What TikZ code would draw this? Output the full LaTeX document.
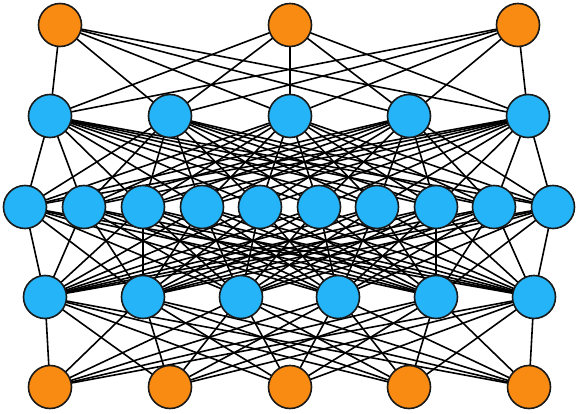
\documentclass[tikz,border=0pt]{standalone}
\begin{document}
\begin{tikzpicture}[x=1pt,y=-1pt,
  neuron/.style={circle,draw=black!90,line width=1.6pt,minimum size=43pt,inner sep=0pt},
  io/.style={neuron,fill=ioorange},
  hid/.style={neuron,fill=hidblue},
  edge/.style={line width=1.6pt,black}]
\definecolor{ioorange}{HTML}{F98B12}
\definecolor{hidblue}{HTML}{25B4F7}
\useasboundingbox (0,0) rectangle (579,414);
% layer A (top)
\foreach \x [count=\i] in {60,290,518} \node[io] (a\i) at (\x,25) {};
% layer B
\foreach \x [count=\i] in {50,170,290,409,528} \node[hid] (b\i) at (\x,116) {};
% layer C
\foreach \x [count=\i] in {25,84,143,202,260,319,377,436,494,553} \node[hid] (c\i) at (\x,207) {};
% layer D
\foreach \x [count=\i] in {45,143,241,338,436,534} \node[hid] (d\i) at (\x,297) {};
% layer E (bottom)
\foreach \x [count=\i] in {50,170,290,409,529} \node[io] (e\i) at (\x,387) {};
\pgfdeclarelayer{bg}\pgfsetlayers{bg,main}
\begin{pgfonlayer}{bg}
\foreach \i in {1,...,3} \foreach \j in {1,...,5} \draw[edge] (a\i.center) -- (b\j.center);
\foreach \i in {1,...,5} \foreach \j in {1,...,10} \draw[edge] (b\i.center) -- (c\j.center);
\foreach \i in {1,...,10} \foreach \j in {1,...,6} \draw[edge] (c\i.center) -- (d\j.center);
\foreach \i in {1,...,6} \foreach \j in {1,...,5} \draw[edge] (d\i.center) -- (e\j.center);
\end{pgfonlayer}
\end{tikzpicture}
\end{document}
